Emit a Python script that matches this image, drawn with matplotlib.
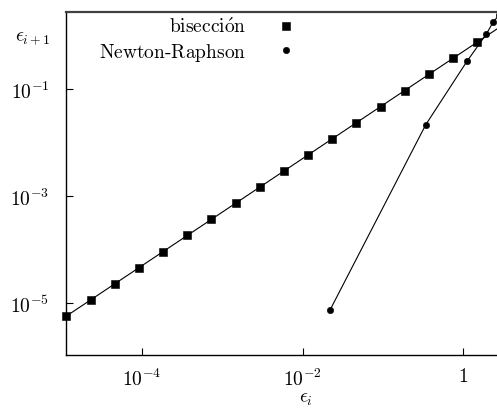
import matplotlib
matplotlib.use("Agg")
import matplotlib.pyplot as plt
from matplotlib.lines import Line2D

plt.rcParams["mathtext.fontset"] = "cm"
plt.rcParams["font.family"] = "serif"
plt.rcParams["font.serif"] = ["cmr10", "DejaVu Serif"]
plt.rcParams["axes.formatter.use_mathtext"] = True

# bisection: eps_{i+1} vs eps_i
bis_x = [3.0, 1.5, 0.75, 0.375, 0.1875, 0.09375, 0.046875, 0.0234375,
         0.01171875, 5.859e-3, 2.930e-3, 1.465e-3, 7.324e-4, 3.662e-4,
         1.831e-4, 9.155e-5, 4.578e-5, 2.289e-5, 1.144e-5]
bis_y = [1.5, 0.75, 0.375, 0.1875, 0.09375, 0.046875, 0.0234375,
         0.01171875, 5.859e-3, 2.930e-3, 1.465e-3, 7.324e-4, 3.662e-4,
         1.831e-4, 9.155e-5, 4.578e-5, 2.289e-5, 1.144e-5, 5.722e-6]

# Newton-Raphson
nr_x = [2.8, 2.39, 1.94, 1.12, 0.343, 0.022]
nr_y = [2.39, 1.81, 1.05, 0.33, 0.0215, 7.4e-6]

x_ticks = [1e-4, 1e-2, 1]
x_labels = [r"$10^{-4}$", r"$10^{-2}$", r"$1$"]
y_ticks = [1e-1, 1e-3, 1e-5]
y_labels = [r"$10^{-1}$", r"$10^{-3}$", r"$10^{-5}$"]

W, H = 497, 410
fig = plt.figure(figsize=(W / 100, H / 100), dpi=100)
ax = fig.add_axes([66 / W, (H - 356) / H, 431 / W, 343 / H])

sq = dict(marker="s", ms=5.6, mew=0.4)
dot = dict(marker="o", ms=4.6, mew=0.4)
ax.plot(bis_x, bis_y, color="black", lw=0.8, clip_on=False, zorder=3, **sq)
ax.plot(nr_x, nr_y, color="black", lw=0.8, clip_on=False, zorder=3, **dot)

ax.set_xscale("log")
ax.set_yscale("log")
ax.set_xlim(1.13e-5, 2.65)
ax.set_ylim(1.07e-6, 2.75)

ax.set_xticks(x_ticks)
ax.set_xticklabels(x_labels)
ax.set_yticks(y_ticks)
ax.set_yticklabels(y_labels)
ax.minorticks_off()
ax.tick_params(direction="in", length=5, width=0.8, labelsize=14, pad=9)
ax.tick_params(axis="y", pad=12)

ax.spines["right"].set_visible(False)
ax.spines["top"].set_color("#404040")
ax.spines["top"].set_linewidth(1.6)
for s in ("left", "bottom"):
    ax.spines[s].set_linewidth(1.0)

ax.set_xlabel(r"$\epsilon_i$", fontsize=14)
ax.xaxis.set_label_coords(0.557, -0.1)
ax.set_ylabel(r"$\epsilon_{i+1}$", fontsize=14, rotation=0)
ax.yaxis.set_label_coords(-0.078, 0.9)

handles = [
    Line2D([], [], color="black", ls="none", **sq),
    Line2D([], [], color="black", ls="none", **dot),
]
ax.legend(handles, [r"$\mathrm{bisecci\acute{o}n}$", r"$\mathrm{Newton}$-$\mathrm{Raphson}$"],
          loc="upper right", bbox_to_anchor=(0.532, 0.985), frameon=False,
          markerfirst=False, fontsize=14, handlelength=1.0, handletextpad=1.5,
          borderpad=0, borderaxespad=0, labelspacing=0.25)

fig.savefig("out.png", dpi=100)
